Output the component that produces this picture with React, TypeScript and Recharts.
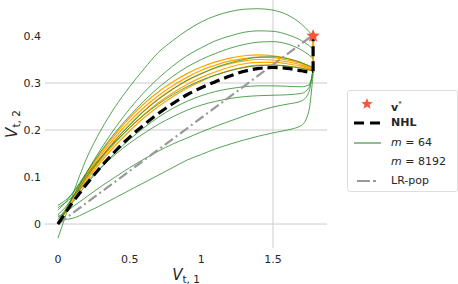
import React from 'react';
import { ComposedChart, Line, Scatter, XAxis, YAxis, ReferenceLine, Legend } from 'recharts';

// shared x grid for the sample runs
const runX = [0, 0.05, 0.1, 0.2, 0.3, 0.4, 0.5, 0.6, 0.7, 0.8, 0.9, 1.0, 1.1, 1.2, 1.3, 1.4, 1.5, 1.6, 1.7, 1.75, 1.78];

// m = 64 runs (green)
const m64A = [-0.03, 0.015, 0.06, 0.14, 0.2, 0.25, 0.292, 0.33, 0.365, 0.39, 0.412, 0.43, 0.443, 0.452, 0.457, 0.458, 0.455, 0.445, 0.425, 0.41, 0.4];
const m64B = [0.01, 0.03, 0.055, 0.11, 0.16, 0.205, 0.245, 0.28, 0.31, 0.336, 0.358, 0.375, 0.39, 0.4, 0.408, 0.411, 0.41, 0.403, 0.39, 0.38, 0.372];
const m64C = [0.03, 0.045, 0.065, 0.11, 0.155, 0.195, 0.23, 0.262, 0.29, 0.314, 0.334, 0.35, 0.363, 0.374, 0.382, 0.387, 0.388, 0.383, 0.37, 0.36, 0.352];
const m64D = [0.02, 0.035, 0.055, 0.1, 0.14, 0.178, 0.21, 0.24, 0.265, 0.287, 0.306, 0.32, 0.333, 0.343, 0.35, 0.355, 0.356, 0.352, 0.343, 0.337, 0.333];
const m64E = [0.04, 0.05, 0.065, 0.105, 0.142, 0.175, 0.205, 0.232, 0.255, 0.275, 0.292, 0.306, 0.317, 0.326, 0.333, 0.337, 0.338, 0.336, 0.331, 0.328, 0.327];
const m64F = [0.005, 0.025, 0.045, 0.085, 0.12, 0.152, 0.18, 0.205, 0.227, 0.246, 0.261, 0.273, 0.282, 0.288, 0.292, 0.294, 0.294, 0.293, 0.292, 0.296, 0.32];
const m64G = [0.035, 0.045, 0.058, 0.09, 0.12, 0.148, 0.172, 0.193, 0.212, 0.228, 0.242, 0.253, 0.261, 0.267, 0.271, 0.273, 0.274, 0.275, 0.278, 0.29, 0.33];
const m64H = [0.015, 0.025, 0.036, 0.058, 0.08, 0.1, 0.12, 0.138, 0.155, 0.17, 0.183, 0.196, 0.208, 0.219, 0.23, 0.24, 0.249, 0.255, 0.262, 0.28, 0.33];
const m64I = [0.02, 0.01, 0.012, 0.025, 0.04, 0.056, 0.072, 0.088, 0.104, 0.12, 0.136, 0.148, 0.16, 0.17, 0.179, 0.187, 0.194, 0.2, 0.21, 0.24, 0.32];

// m = 8192 runs (orange)
const m8192A = [0, 0.024, 0.048, 0.092, 0.132, 0.167, 0.198, 0.226, 0.25, 0.271, 0.289, 0.304, 0.317, 0.327, 0.334, 0.338, 0.338, 0.336, 0.332, 0.328, 0.326];
const m8192B = [0, 0.025, 0.05, 0.096, 0.137, 0.173, 0.205, 0.233, 0.258, 0.279, 0.297, 0.312, 0.324, 0.334, 0.341, 0.344, 0.344, 0.341, 0.335, 0.33, 0.327];
const m8192C = [0, 0.026, 0.052, 0.1, 0.142, 0.179, 0.212, 0.241, 0.266, 0.287, 0.305, 0.32, 0.332, 0.341, 0.347, 0.35, 0.349, 0.345, 0.338, 0.332, 0.328];
const m8192D = [0, 0.027, 0.054, 0.104, 0.147, 0.185, 0.219, 0.248, 0.273, 0.294, 0.312, 0.327, 0.338, 0.347, 0.352, 0.355, 0.354, 0.349, 0.341, 0.334, 0.329];
const m8192E = [0, 0.028, 0.056, 0.108, 0.152, 0.191, 0.226, 0.256, 0.281, 0.302, 0.32, 0.334, 0.345, 0.353, 0.358, 0.36, 0.358, 0.352, 0.343, 0.336, 0.33];
const m8192RiseX = [1.78, 1.78];
const m8192RiseY = [0.33, 0.4];

// NHL (black dashed)
const nhlX = [0, 0.1, 0.2, 0.3, 0.4, 0.5, 0.6, 0.7, 0.8, 0.9, 1.0, 1.1, 1.2, 1.3, 1.4, 1.5, 1.6, 1.7, 1.76, 1.78];
const nhlY = [0, 0.045, 0.085, 0.122, 0.155, 0.185, 0.211, 0.235, 0.256, 0.275, 0.29, 0.303, 0.315, 0.325, 0.331, 0.333, 0.331, 0.326, 0.323, 0.325];
const nhlRiseX = [1.78, 1.78];
const nhlRiseY = [0.325, 0.4];

// LR-pop (gray dash-dot)
const lrPopX = [0, 1.77];
const lrPopY = [0, 0.4];

const vStar = [{ x: 1.78, y: 0.4 }];

const xTicks = [0, 0.5, 1, 1.5];
const yTicks = [0, 0.1, 0.2, 0.3, 0.4];
const gridYs = [0, 0.2, 0.3];
const gridXs = [1.5];

const legendLabels = ['v*', 'NHL', 'm = 64', 'm = 8192', 'LR-pop'];

const toPts = (xs: number[], ys: number[]) => xs.map((x, i) => ({ x, y: ys[i] }));

const m64Runs = [m64A, m64B, m64C, m64D, m64E, m64F, m64G, m64H, m64I];
const m8192Runs = [m8192A, m8192B, m8192C, m8192D, m8192E];

const GREEN = '#2a8c2a';
const ORANGE = '#ffa500';
const STAR = '#f4563c';
const font = 'DejaVu Sans, sans-serif';
const tickStyle = { fontFamily: font, fontSize: 11, fill: '#262626' };

const starPath = (cx: number, cy: number, R: number, r: number) => {
  const pts: string[] = [];
  for (let i = 0; i < 10; i++) {
    const rad = i % 2 === 0 ? R : r;
    const a = -Math.PI / 2 + (i * Math.PI) / 5;
    pts.push(`${cx + rad * Math.cos(a)},${cy + rad * Math.sin(a)}`);
  }
  return pts.join(' ');
};

const StarShape = (props: any) => <polygon points={starPath(props.cx, props.cy, 7, 3)} fill={STAR} />;

const XTitle = (props: any) => {
  const { x, y, width } = props.viewBox;
  return (
    <text x={x + width / 2} y={y + 32} textAnchor="middle" fontFamily={font} fontSize={15} fill="#262626">
      <tspan fontStyle="italic">V</tspan>
      <tspan fontSize={10.5} dy={3}>t, 1</tspan>
    </text>
  );
};

const YTitle = (props: any) => {
  const { height } = props.viewBox;
  const cy = height / 2;
  return (
    <text x={17} y={cy} transform={`rotate(-90, 17, ${cy})`} textAnchor="middle" fontFamily={font} fontSize={15} fill="#262626">
      <tspan fontStyle="italic">V</tspan>
      <tspan fontSize={10.5} dy={3}>t, 2</tspan>
    </text>
  );
};

const marker = (i: number) => {
  if (i === 0) return <polygon points={starPath(19, 7, 6, 2.6)} fill={STAR} />;
  if (i === 1) return <line x1={6} y1={7} x2={33} y2={7} stroke="#000" strokeWidth={3} strokeDasharray="10 6" />;
  if (i === 2) return <line x1={6} y1={7} x2={33} y2={7} stroke="#1f7a1f" strokeWidth={1} />;
  if (i === 4) return <line x1={9} y1={7} x2={30} y2={7} stroke="#999" strokeWidth={2} strokeDasharray="13 3 3 3" />;
  return null;
};

const legendText = (i: number) => {
  if (i === 0) return (<span><b>v</b><sup style={{ fontSize: 7 }}>*</sup></span>);
  if (i === 1) return <b>{legendLabels[1]}</b>;
  if (i === 2 || i === 3) return (<span><i>m</i>{legendLabels[i].slice(1)}</span>);
  return <span>{legendLabels[i]}</span>;
};

const renderLegend = () => (
  <div style={{ boxSizing: 'border-box', position: 'relative', width: 111, height: 102, border: '1px solid #dedede', borderRadius: 3, background: 'rgba(255,255,255,0.85)', fontFamily: font, fontSize: 11, color: '#262626' }}>
    {legendLabels.map((_, i) => (
      <div key={i} style={{ position: 'absolute', left: 0, top: 6 + i * 19.3, width: 109, height: 14 }}>
        <svg width={36} height={14} style={{ position: 'absolute', left: 0, top: 0 }}>{marker(i)}</svg>
        <div style={{ position: 'absolute', left: 43, top: 0, lineHeight: '14px', whiteSpace: 'nowrap' }}>{legendText(i)}</div>
      </div>
    ))}
  </div>
);

export default function App() {
  return (
    <div style={{ position: 'absolute', left: 0, top: 0, width: 458, height: 284, background: '#fff' }}>
      <ComposedChart width={458} height={284} margin={{ top: 0, right: 131, bottom: 0, left: 0 }}>
        <XAxis
          type="number"
          dataKey="x"
          domain={[-0.0907, 1.877]}
          ticks={xTicks}
          allowDataOverflow
          axisLine={false}
          tickLine={false}
          tickSize={5}
          tickMargin={2}
          height={36}
          tick={tickStyle}
          label={<XTitle />}
        />
        <YAxis
          type="number"
          dataKey="y"
          domain={[-0.051, 0.4766]}
          ticks={yTicks}
          allowDataOverflow
          axisLine={false}
          tickLine={false}
          tickSize={2}
          tickMargin={2}
          width={45}
          tick={tickStyle}
          tickFormatter={(v: number) => (v === 0 ? '0' : v.toFixed(1))}
          label={<YTitle />}
        />
        {gridYs.map((g) => (
          <ReferenceLine key={`gy${g}`} y={g} stroke="#cccccc" strokeWidth={1} />
        ))}
        {gridXs.map((g) => (
          <ReferenceLine key={`gx${g}`} x={g} stroke="#cccccc" strokeWidth={1} />
        ))}
        {m8192Runs.map((ys, i) => (
          <Line key={`o${i}`} data={toPts(runX, ys)} dataKey="y" type="monotone" stroke={ORANGE} strokeWidth={1.2} dot={false} isAnimationActive={false} legendType="none" />
        ))}
        <Line data={toPts(m8192RiseX, m8192RiseY)} dataKey="y" type="linear" stroke={ORANGE} strokeWidth={2} dot={false} isAnimationActive={false} legendType="none" />
        {m64Runs.map((ys, i) => (
          <Line key={`g${i}`} data={toPts(runX, ys)} dataKey="y" type="monotone" stroke={GREEN} strokeWidth={0.8} dot={false} isAnimationActive={false} legendType="none" />
        ))}
        <Line data={toPts(lrPopX, lrPopY)} dataKey="y" type="linear" stroke="#999999" strokeWidth={2.2} strokeDasharray="10 3.5 2 3.5" dot={false} isAnimationActive={false} legendType="none" />
        <Line data={toPts(nhlX, nhlY)} dataKey="y" type="monotone" stroke="#000" strokeWidth={3.2} strokeDasharray="10 5" dot={false} isAnimationActive={false} legendType="none" />
        <Line data={toPts(nhlRiseX, nhlRiseY)} dataKey="y" type="linear" stroke="#000" strokeWidth={3.2} strokeDasharray="10 5" dot={false} isAnimationActive={false} legendType="none" />
        <Scatter data={vStar} dataKey="y" shape={<StarShape />} isAnimationActive={false} legendType="none" />
        <Legend
          layout="vertical"
          align="center"
          verticalAlign="middle"
          content={renderLegend}
          wrapperStyle={{ position: 'absolute', left: 347, top: 90, width: 111, height: 102 }}
        />
      </ComposedChart>
    </div>
  );
}
